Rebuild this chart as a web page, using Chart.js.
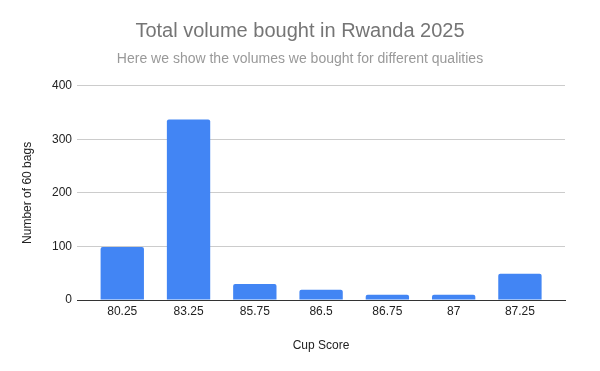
<!DOCTYPE html>
<html lang="en">
<head>
    <meta charset="UTF-8">
    <title>Total volume bought in Rwanda 2025</title>
    <script src="https://cdn.jsdelivr.net/npm/chart.js"></script>
    <style>
        body { margin: 0; background: #fff; }
        #wrap { width: 600px; height: 371px; }
    </style>
</head>
<body>
    <div id="wrap">
        <canvas id="volumeChart"></canvas>
    </div>
    <script>
        var cupScores = ['80.25', '83.25', '85.75', '86.5', '86.75', '87', '87.25'];
        var bags = [99, 337, 30, 19, 10, 10, 49];
        var yTicks = [0, 100, 200, 300, 400];

        var font = 'Arial, "Liberation Sans", sans-serif';

        // linear x axis so the bars can sit inside a slightly wider plot area
        var points = bags.map(function (v, i) { return { x: i, y: v }; });

        var ctx = document.getElementById('volumeChart').getContext('2d');
        var chart = new Chart(ctx, {
            type: 'bar',
            data: {
                datasets: [{
                    label: 'Number of 60 bags',
                    data: points,
                    backgroundColor: '#4285f4',
                    borderRadius: { topLeft: 2, topRight: 2 },
                    borderSkipped: 'bottom',
                    barPercentage: 0.654,
                    categoryPercentage: 1
                }]
            },
            options: {
                responsive: true,
                maintainAspectRatio: false,
                animation: false,
                layout: { padding: 0 },
                plugins: {
                    legend: { display: false },
                    tooltip: { enabled: false },
                    title: {
                        display: true,
                        text: 'Total volume bought in Rwanda 2025',
                        color: '#757575',
                        font: { family: font, size: 20, weight: 'normal' },
                        padding: { top: 19, bottom: 8 }
                    },
                    subtitle: {
                        display: true,
                        text: 'Here we show the volumes we bought for different qualities',
                        color: '#999999',
                        font: { family: font, size: 14, weight: 'normal' },
                        padding: { top: 0, bottom: 18 }
                    }
                },
                scales: {
                    x: {
                        type: 'linear',
                        offset: false,
                        min: -0.683,
                        max: 6.68,
                        afterBuildTicks: function (scale) {
                            scale.ticks = cupScores.map(function (s, i) { return { value: i }; });
                        },
                        afterFit: function (scale) { scale.height = 71; },
                        grid: { display: false, drawTicks: false },
                        border: { color: '#333333', width: 1 },
                        ticks: {
                            color: '#222222',
                            font: { family: font, size: 12 },
                            padding: 4,
                            maxRotation: 0,
                            autoSkip: false,
                            callback: function (value) { return cupScores[value]; }
                        },
                        title: {
                            display: true,
                            text: 'Cup Score',
                            color: '#222222',
                            font: { family: font, size: 12 },
                            padding: { top: 0, bottom: 18 }
                        }
                    },
                    y: {
                        min: 0,
                        max: 400,
                        afterBuildTicks: function (scale) {
                            scale.ticks = yTicks.map(function (v) { return { value: v }; });
                        },
                        afterFit: function (scale) { scale.width = 77; },
                        grid: { color: '#cccccc', drawTicks: false },
                        border: { display: false },
                        ticks: { color: '#222222', font: { family: font, size: 12 }, padding: 5 },
                        title: {
                            display: true,
                            text: 'Number of 60 bags',
                            color: '#222222',
                            font: { family: font, size: 12 },
                            padding: { top: 20, bottom: 0 }
                        }
                    },
                    // empty right axis, only keeps the plot area clear of the right edge
                    yRight: {
                        position: 'right',
                        min: 0,
                        max: 1,
                        afterFit: function (scale) { scale.width = 35; },
                        grid: { display: false },
                        border: { display: false },
                        ticks: { display: false }
                    }
                }
            }
        });
    </script>
</body>
</html>
